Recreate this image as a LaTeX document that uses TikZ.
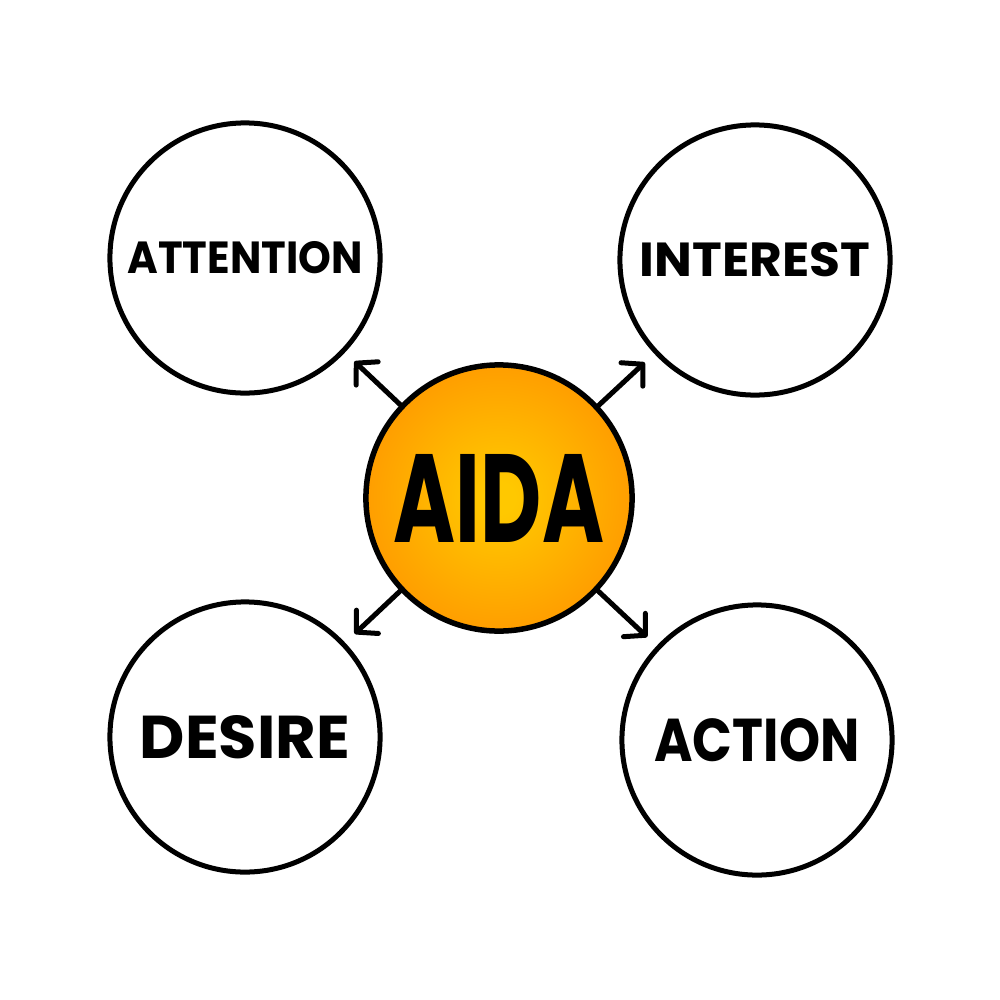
\documentclass[tikz,border=0pt]{standalone}
\usepackage{fontspec}
\setmainfont{Poppins}
\usetikzlibrary{arrows.meta}
\definecolor{aidactr}{RGB}{255,200,0}
\definecolor{aidamid}{RGB}{255,152,0}
\definecolor{aidaedge}{RGB}{245,122,0}
\pgfdeclareradialshading{aidashade}{\pgfpoint{0bp}{0bp}}{color(0bp)=(aidactr); color(3bp)=(aidactr); color(28bp)=(aidamid); color(50bp)=(aidaedge); color(60bp)=(aidaedge)}
\tikzset{
  stage/.style={circle, draw=black, line width=0.05cm, minimum size=2.7cm, inner sep=0pt, fill=white},
  hub/.style={circle, draw=black, line width=0.055cm, minimum size=2.66cm, inner sep=0pt, shading=aidashade},
  link/.style={line width=0.05cm, black, line cap=round, -{Straight Barb[length=0.15cm, width=0.32cm, line width=0.05cm, round]}, shorten >=0.13cm}
}
\newcommand{\lbl}[3]{\resizebox{#1}{#2}{\bfseries #3}}
\begin{document}
\begin{tikzpicture}[x=0.01cm, y=-0.01cm]
\useasboundingbox (0,0) rectangle (1000,1000);
\fill[white] (0,0) rectangle (1000,1000);
\node[stage] (att) at (245,258) {\lbl{2.35cm}{0.32cm}{ATTENTION}};
\node[stage] (int) at (755,260) {\lbl{2.30cm}{0.34cm}{INTEREST}};
\node[stage] (des) at (245,737) {\lbl{2.10cm}{0.43cm}{DESIRE}};
\node[stage] (act) at (757,740) {\lbl{2.05cm}{0.43cm}{ACTION}};
\node[hub] (aida) at (499,498) {\lbl{2.10cm}{0.88cm}{AIDA}};
\draw[link] (aida) -- (att);
\draw[link] (aida) -- (int);
\draw[link] (aida) -- (des);
\draw[link] (aida) -- (act);
\end{tikzpicture}
\end{document}
